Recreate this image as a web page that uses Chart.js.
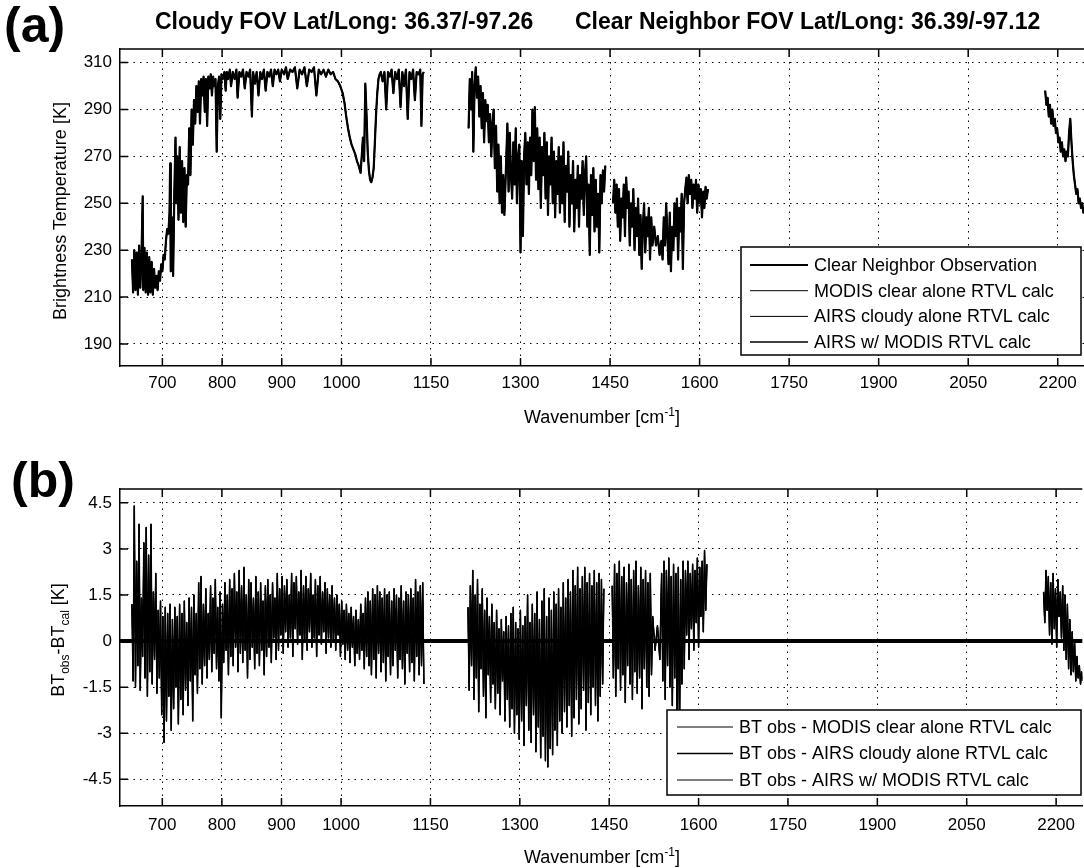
<!DOCTYPE html>
<html>
<head>
<meta charset="utf-8">
<script src="https://cdn.jsdelivr.net/npm/chart.js@4.4.1/dist/chart.umd.min.js"></script>
<style>
  body { margin: 0; background: #fff; }
  #page { position: relative; width: 1084px; height: 868px; overflow: hidden; font-family: 'Liberation Sans', Arial, sans-serif; color: #000; }
  .box { position: absolute; left: 0; width: 1084px; height: 434px; }
  .lbl { position: absolute; white-space: nowrap; line-height: 1; }
  .panel { font-weight: bold; font-size: 50px; }
  .ttl { font-weight: bold; font-size: 23px; }
  .ax { font-size: 18px; transform: translate(-50%, -50%); }
  .ay { font-size: 18px; transform: translate(-50%, -50%) rotate(-90deg); }
  sup, sub { font-size: 12px; }
</style>
</head>
<body>
<div id="page">
  <div class="box" style="top:0"><canvas id="topChart" width="1084" height="434"></canvas></div>
  <div class="box" style="top:434px"><canvas id="diffChart" width="1084" height="434"></canvas></div>

  <div class="lbl panel" style="left:4px; top:0px">(a)</div>
  <div class="lbl panel" style="left:11px; top:455px">(b)</div>
  <div class="lbl ttl" style="left:155px; top:10px">Cloudy FOV Lat/Long: 36.37/-97.26</div>
  <div class="lbl ttl" style="left:575px; top:10px">Clear Neighbor FOV Lat/Long: 36.39/-97.12</div>
  <div class="lbl ay" style="left:60px; top:211px">Brightness Temperature [K]</div>
  <div class="lbl ay" style="left:60px; top:640px">BT<sub>obs</sub>-BT<sub>cal</sub> [K]</div>
  <div class="lbl ax" style="left:602px; top:416px">Wavenumber [cm<sup>-1</sup>]</div>
  <div class="lbl ax" style="left:602px; top:856px">Wavenumber [cm<sup>-1</sup>]</div>
</div>

<script>
// tick labels
var xTicks = [700, 800, 900, 1000, 1150, 1300, 1450, 1600, 1750, 1900, 2050, 2200];
var btTicks = [190, 210, 230, 250, 270, 290, 310];
var dTicks = [4.5, 3, 1.5, 0, -1.5, -3, -4.5];

var btLabels = ["Clear Neighbor Observation", "MODIS clear alone RTVL calc", "AIRS cloudy alone RTVL calc", "AIRS w/ MODIS RTVL calc"];
var dLabels = ["BT obs - MODIS clear alone RTVL calc", "BT obs - AIRS cloudy alone RTVL calc", "BT obs - AIRS w/ MODIS RTVL calc"];

// (a) brightness temperature [K], [wavenumber, BT]
var btSegA = [[649,226],[651,212],[653,230],[655,213],[657,229],[659,211],[661,232],[663,214],[665,227],[667,253],[668,213],[670,231],[672,212],[674,229],[676,211],[678,227],[680,212],[682,225],[684,211],[686,222],[688,214],[690,219],[692,213],[694,221],[696,217],[698,224],
  [700,221],[702,228],[704,226],[706,234],[708,239],[710,237],[712,246],[713,267],[714,221],[716,244],[718,219],[720,254],[722,278],[723,250],[725,270],[727,243],[729,274],[731,246],[733,268],[735,242],[737,265],[739,240],[741,262],[743,258],[745,282],[747,262],[749,290],[751,275],[753,294],[755,284],[757,300],[759,289],
  [761,302],[763,284],[765,303],[767,296],[769,304],[771,289],[773,303],[775,283],[777,304],[779,299],[781,305],[783,296],[785,304],[787,300],[789,303],[791,272],[793,300],[795,304],[797,286],[799,305],
  [801,303],[804,306],[806,298],[808,306],[810,303],[813,307],[815,300],[818,306],[821,303],[824,307],[826,295],[829,306],[832,304],[835,307],[838,299],[841,306],[844,304],[847,307],[850,287],[852,306],[855,301],[858,306],[861,296],[864,306],[867,303],[870,307],[873,298],[876,306],[879,304],[882,307],[885,300],[888,307],[891,305],[894,307],[897,302],
  [900,307],[904,305],[907,308],[910,303],[914,307],[918,306],[922,308],[926,299],[930,307],[934,305],[938,308],[942,300],[946,307],[950,306],[954,308],[958,296],[962,307],[966,305],[970,307],[974,304],[978,307],[982,305],[986,306],[990,303],[994,302],[998,300],
  [1002,297],[1005,293],[1008,287],[1011,282],[1014,278],[1017,275],[1020,273],[1023,271],[1026,268],[1029,266],[1032,263],[1034,270],[1036,278],[1038,268],[1040,301],[1042,288],[1044,272],[1046,264],[1048,260],[1050,259],[1052,261],[1054,265],[1056,276],[1058,288],[1060,297],[1062,303],[1064,305],[1066,306],
  [1069,302],[1072,306],[1075,290],[1078,306],[1081,304],[1084,307],[1087,297],[1090,306],[1093,303],[1096,307],[1099,291],[1102,306],[1105,300],[1108,307],[1111,286],[1114,306],[1117,303],[1120,307],[1123,294],[1126,306],[1129,305],[1132,307],[1134,283],[1136,305],[1138,306]];
var btSegB = [[1213,282],[1215,303],[1217,290],[1219,306],[1221,272],[1223,300],[1225,308],[1227,295],[1229,304],[1231,287],[1233,300],[1235,282],[1237,297],[1239,276],[1241,294],[1243,285],[1245,292],[1247,276],[1249,288],[1251,270],[1253,284],
  [1255,290],[1257,265],[1259,283],[1261,255],[1263,275],[1265,250],[1267,270],[1269,246],[1271,262],[1273,245],[1276,268],[1278,284],[1280,255],[1282,280],[1284,262],[1286,252],[1288,276],[1290,258],[1292,282],[1294,250],[1296,270],[1298,275],
  [1300,229],[1302,268],[1304,236],[1306,270],[1308,280],[1310,258],[1312,276],[1314,254],[1316,278],[1318,262],[1320,290],[1322,268],[1324,291],[1326,260],[1328,282],[1330,256],[1332,278],[1334,248],[1336,274],[1338,262],[1340,280],[1342,252],[1344,276],[1346,245],[1348,270],
  [1350,258],[1352,278],[1354,250],[1356,272],[1358,244],[1360,268],[1362,254],[1364,274],[1366,246],[1368,270],[1370,250],[1372,276],[1374,242],[1376,266],[1378,255],[1380,272],[1382,240],[1384,262],[1386,250],[1388,268],[1390,238],[1392,260],[1394,248],[1396,266],[1398,240],
  [1400,262],[1402,252],[1404,268],[1406,245],[1408,262],[1410,270],[1412,240],[1414,258],[1416,228],[1418,262],[1420,245],[1422,265],[1424,238],[1426,260],[1428,240],[1430,254],[1432,229],[1434,262],[1436,250],[1438,264],[1440,255],[1442,266]];
var btSegC = [[1455,250],[1457,260],[1459,246],[1461,258],[1463,240],[1465,256],[1467,234],[1469,252],[1471,244],[1473,258],[1475,236],[1477,261],[1479,248],[1481,255],[1483,232],[1485,250],[1487,240],[1489,256],[1491,230],[1493,248],[1495,236],[1497,252],[1499,228],
  [1501,245],[1503,222],[1505,240],[1507,250],[1509,229],[1511,244],[1513,236],[1515,248],[1517,226],[1519,244],[1521,232],[1524,240],[1527,232],[1530,236],[1533,228],[1536,234],[1538,226],[1540,244],[1542,232],[1544,250],[1546,236],[1548,224],
  [1550,246],[1552,221],[1554,240],[1556,230],[1558,250],[1560,236],[1562,252],[1564,226],[1566,248],[1568,238],[1570,254],[1572,222],[1574,250],[1576,256],[1578,261],[1580,250],[1582,262],[1584,254],[1586,260],[1588,248],[1590,258],[1592,252],[1594,260],[1596,246],[1598,258],
  [1600,250],[1602,256],[1604,244],[1606,255],[1608,248],[1610,257],[1612,252],[1614,256]];
var btSegD = [[2179,298],[2181,292],[2183,295],[2185,287],[2187,292],[2189,284],[2191,290],[2193,283],[2195,286],[2197,280],[2199,282],[2201,276],[2203,278],[2205,272],[2207,276],[2209,270],[2211,273],[2213,268],[2215,272],[2217,270],[2219,280],[2221,286],[2223,276],[2225,268],[2227,262],[2229,258],[2231,254],[2233,256],[2235,250],[2237,252],[2239,248],[2241,250],[2243,246],[2245,247]];

// (b) BT obs - BT calc [K], [wavenumber, diff]
var dSegA = [[649,1.2],[651,-1.3],[653,4.4],[655,-1.5],[657,2.6],[659,-0.8],[661,3.8],[663,-1.6],[665,1.4],[667,-0.5],[669,3.2],[671,-1.2],[673,3.7],[675,-1.8],[677,2.8],[679,-1.0],[681,3.8],[683,-1.4],[685,1.6],[687,-0.6],[689,2.2],[691,-1.7],[693,1.0],[695,-1.2],[697,1.3],[699,-2.4],
  [701,0.8],[703,-3.3],[705,1.1],[707,-2.6],[709,0.9],[711,-1.8],[713,1.2],[715,-2.9],[717,0.7],[719,-2.2],[721,1.1],[723,-1.5],[725,0.8],[727,-2.7],[729,1.2],[731,-1.9],[733,0.9],[735,-2.4],[737,1.3],[739,-1.6],[741,0.6],[743,-2.1],[745,1.4],[747,-1.3],[749,1.1],
  [751,-2.6],[753,1.5],[755,-1.1],[757,0.9],[759,-1.7],[761,1.9],[763,-0.9],[765,2.1],[767,-1.4],[769,1.2],[771,-0.8],[773,1.7],[775,-1.2],[777,0.9],[779,-0.6],[781,1.8],[783,-1.0],[785,1.4],[787,-0.4],[789,2.0],[791,-0.9],[793,1.1],[795,-1.3],[797,1.6],[799,-2.5],
  [801,1.2],[803,-0.7],[805,1.9],[807,-0.3],[809,1.5],[811,-1.1],[813,2.0],[815,-0.5],[817,1.7],[819,-0.8],[821,2.2],[823,-0.2],[825,1.6],[827,-1.0],[829,2.3],[831,-0.4],[833,1.8],[835,-0.7],[837,2.4],[839,-0.3],[841,1.5],[843,-1.2],[845,2.0],[847,-0.6],[849,1.9],
  [851,-0.2],[853,1.4],[855,-0.9],[857,2.1],[859,-0.4],[861,1.6],[863,-0.8],[865,1.9],[867,-0.3],[869,1.3],[871,-1.1],[873,1.8],[875,-0.5],[877,2.0],[879,-0.2],[881,1.5],[883,-0.7],[885,1.9],[887,0.1],[889,1.4],[891,-0.6],[893,2.2],[895,-0.3],[897,1.7],[899,0.2],
  [901,2.1],[903,-0.4],[905,1.8],[907,0.3],[909,2.0],[911,-0.2],[913,1.5],[915,0.1],[917,2.2],[919,-0.5],[921,1.9],[923,0.4],[925,2.1],[927,-0.1],[929,1.6],[931,0.2],[933,2.3],[935,-0.6],[937,1.8],[939,0.0],[941,2.1],[943,-0.3],[945,1.7],[947,0.3],[949,2.2],
  [951,-0.2],[953,1.5],[955,0.1],[957,2.0],[959,-0.5],[961,1.8],[963,0.2],[965,2.1],[967,-0.1],[969,1.6],[971,0.3],[973,1.9],[975,-0.4],[977,1.7],[979,0.1],[981,1.5],[983,-0.2],[985,1.8],[987,0.0],[989,1.4],[991,-0.3],[993,1.5],[995,0.2],[997,1.2],[999,-0.5],
  [1001,1.3],[1003,-0.1],[1005,1.0],[1007,-0.6],[1009,1.2],[1011,-0.3],[1013,0.9],[1015,-0.7],[1017,1.1],[1019,-0.2],[1021,0.8],[1023,-0.8],[1025,1.0],[1027,-0.4],[1029,0.7],[1031,-0.6],[1033,1.2],[1035,-0.3],[1037,0.9],[1039,-0.9],[1041,1.4],[1043,-0.5],[1045,1.6],[1047,-0.8],[1049,1.3],
  [1051,-1.1],[1053,1.7],[1055,-0.6],[1057,1.5],[1059,-1.2],[1061,1.8],[1063,-0.4],[1065,1.6],[1067,-1.0],[1069,1.4],[1071,-0.7],[1073,1.7],[1075,-1.3],[1077,1.5],[1079,-0.5],[1081,1.6],[1083,-1.1],[1085,1.3],[1087,-0.8],[1089,1.7],[1091,-0.3],[1093,1.5],[1095,-1.2],[1097,1.4],[1099,-0.6],
  [1101,1.8],[1103,-0.9],[1105,1.3],[1107,-1.4],[1109,1.6],[1111,-0.4],[1113,1.5],[1115,-1.0],[1117,1.7],[1119,-0.7],[1121,1.4],[1123,-1.3],[1125,2.0],[1127,-0.5],[1129,1.6],[1131,-1.1],[1133,1.8],[1135,-0.8],[1137,1.9],[1139,-1.4]];
var dSegB = [[1213,1.1],[1215,-1.6],[1217,1.8],[1219,-0.8],[1221,2.3],[1223,-1.9],[1225,1.5],[1227,-1.2],[1229,2.0],[1231,-2.3],[1233,1.2],[1235,-0.9],[1237,1.7],[1239,-1.8],[1241,1.0],[1243,-2.5],[1245,1.4],[1247,-1.1],[1249,0.8],
  [1251,-2.0],[1253,1.2],[1255,-1.4],[1257,0.6],[1259,-2.2],[1261,1.0],[1263,-1.7],[1265,0.4],[1267,-2.4],[1269,0.7],[1271,-1.3],[1273,0.3],[1275,-2.6],[1277,0.8],[1279,-1.9],[1281,0.5],[1283,-2.8],[1285,0.9],[1287,-2.2],[1289,1.1],[1291,-3.0],[1293,0.6],[1295,-2.4],[1297,0.4],[1299,-3.2],
  [1301,1.0],[1303,-2.6],[1305,0.5],[1307,-3.4],[1309,0.8],[1311,-2.1],[1313,1.5],[1315,-2.9],[1317,0.6],[1319,-3.3],[1321,1.2],[1323,-2.4],[1325,0.9],[1327,-3.6],[1329,1.6],[1331,-2.8],[1333,0.7],[1335,-3.8],[1337,1.3],[1339,-3.1],[1341,1.7],[1343,-3.9],[1345,0.8],[1347,-4.1],[1349,1.4],
  [1351,-3.5],[1353,1.0],[1355,-3.7],[1357,1.6],[1359,-2.9],[1361,1.2],[1363,-3.4],[1365,1.7],[1367,-2.6],[1369,1.1],[1371,-3.0],[1373,1.9],[1375,-2.3],[1377,1.4],[1379,-2.8],[1381,2.0],[1383,-2.1],[1385,1.6],[1387,-3.1],[1389,2.3],[1391,-2.5],[1393,1.8],[1395,-1.9],[1397,2.4],[1399,-2.7],
  [1401,1.7],[1403,-2.2],[1405,2.1],[1407,-1.6],[1409,2.4],[1411,-2.9],[1413,1.9],[1415,-2.0],[1417,2.2],[1419,-2.4],[1421,1.8],[1423,-1.5],[1425,2.3],[1427,-2.1],[1429,1.9],[1431,-2.6],[1433,2.2],[1435,-1.8],[1437,2.0],[1439,-1.4],[1441,1.7]];
var dSegC = [[1455,1.8],[1457,-1.2],[1459,2.5],[1461,-1.8],[1463,2.2],[1465,-0.9],[1467,2.6],[1469,-1.6],[1471,2.1],[1473,-1.1],[1475,2.4],[1477,-2.0],[1479,1.9],[1481,-0.8],[1483,2.5],[1485,-1.4],[1487,2.0],[1489,-1.9],[1491,2.3],[1493,-1.0],[1495,2.6],[1497,-1.7],[1499,1.8],
  [1501,-1.2],[1503,2.4],[1505,-2.2],[1507,2.0],[1509,-0.9],[1511,2.3],[1513,-1.5],[1515,1.9],[1517,-1.8],[1519,2.2],[1521,-1.1],[1523,0.8],[1527,-0.3],[1531,0.5],[1535,-0.6],[1538,2.2],[1540,-1.3],[1542,2.6],[1544,-1.9],[1546,2.3],[1548,-0.8],
  [1550,2.7],[1552,-1.5],[1554,2.1],[1556,-2.1],[1558,2.5],[1560,-1.2],[1562,2.2],[1564,-2.6],[1566,2.4],[1568,-3.1],[1570,2.0],[1572,-1.4],[1574,2.6],[1576,-0.9],[1578,2.3],[1580,0.2],[1582,2.6],[1584,-0.6],[1586,2.2],[1588,0.4],[1590,2.5],[1592,-0.3],[1594,2.3],[1596,0.6],[1598,2.7],
  [1600,-0.2],[1602,2.4],[1604,0.8],[1606,2.6],[1608,0.3],[1610,2.95],[1612,1.0],[1614,2.5]];
var dSegD = [[2179,1.6],[2181,0.6],[2183,2.3],[2185,1.0],[2187,2.1],[2189,0.2],[2191,1.9],[2193,-0.1],[2195,2.2],[2197,0.4],[2199,1.7],[2201,-0.2],[2203,2.0],[2205,0.8],[2207,1.6],[2209,0.1],[2211,1.8],[2213,-0.3],[2215,1.5],[2217,-0.6],[2219,1.2],[2221,-0.9],[2223,0.7],[2225,-1.1],
  [2227,0.3],[2229,-1.0],[2231,0.0],[2233,-1.3],[2235,-0.5],[2237,-1.2],[2239,-0.8],[2241,-1.4],[2243,-1.0],[2245,-1.3]];

// join the spectral windows, with a null between them so the line breaks
function toPoints(segs) {
  var pts = [];
  segs.forEach(function(s, i) {
    if (i > 0) pts.push({x: s[0][0] - 1, y: null});
    s.forEach(function(p) { pts.push({x: p[0], y: p[1]}); });
  });
  return pts;
}

var btObs = toPoints([btSegA, btSegB, btSegC, btSegD]);
var dBT = toPoints([dSegA, dSegB, dSegC, dSegD]);

Chart.defaults.font.family = "'Liberation Sans', Arial, sans-serif";
Chart.defaults.font.size = 17;
Chart.defaults.color = '#000';

// MATLAB style: inward ticks and a top edge
var axesBox = {
  id: 'axesBox',
  afterDraw: function(chart) {
    var ctx = chart.ctx, a = chart.chartArea;
    var xs = chart.scales.x, ys = chart.scales.y;
    ctx.save();
    ctx.strokeStyle = '#000';
    ctx.lineWidth = 1.5;
    ctx.beginPath();
    ctx.moveTo(a.left, a.top);
    ctx.lineTo(a.right, a.top);
    xs.ticks.forEach(function(t) {
      var px = xs.getPixelForValue(t.value);
      ctx.moveTo(px, a.bottom); ctx.lineTo(px, a.bottom - 8);
      ctx.moveTo(px, a.top); ctx.lineTo(px, a.top + 8);
    });
    ys.ticks.forEach(function(t) {
      var py = ys.getPixelForValue(t.value);
      ctx.moveTo(a.left, py); ctx.lineTo(a.left + 8, py);
    });
    ctx.stroke();
    ctx.restore();
  }
};

var boxLegend = {
  id: 'boxLegend',
  afterDraw: function(chart, args, o) {
    var ctx = chart.ctx;
    var items = chart.data.datasets.filter(function(d) { return !d.noLegend; });
    ctx.save();
    ctx.fillStyle = '#fff';
    ctx.fillRect(o.x, o.y, o.w, o.h);
    ctx.strokeStyle = '#000';
    ctx.lineWidth = 1.5;
    ctx.strokeRect(o.x, o.y, o.w, o.h);
    ctx.font = o.font;
    ctx.textBaseline = 'middle';
    ctx.fillStyle = '#000';
    items.forEach(function(d, i) {
      var yy = o.y + o.first + i * o.row;
      ctx.beginPath();
      ctx.lineWidth = d.borderWidth;
      ctx.moveTo(o.x + o.s1, yy);
      ctx.lineTo(o.x + o.s2, yy);
      ctx.stroke();
      ctx.fillText(d.label, o.x + o.tx, yy + 1);
    });
    ctx.restore();
  }
};

function xScale(pad, h) {
  return {
    type: 'linear', min: 629, max: 2244,
    afterBuildTicks: function(s) { s.ticks = xTicks.map(function(v) { return {value: v}; }); },
    afterFit: function(s) { s.height = h; },
    ticks: { autoSkip: false, maxRotation: 0, padding: pad, callback: function(v) { return String(v); } },
    grid: { color: '#000', lineWidth: 1, drawTicks: false },
    border: { display: true, color: '#000', width: 1.5, dash: [1.5, 5] }
  };
}

function yScale(min, max, ticks) {
  return {
    min: min, max: max,
    afterBuildTicks: function(s) { s.ticks = ticks.map(function(v) { return {value: v}; }); },
    afterFit: function(s) { s.width = 120; },
    ticks: { padding: 8, callback: function(v) { return String(v); } },
    grid: { color: '#000', lineWidth: 1, drawTicks: false },
    border: { display: true, color: '#000', width: 1.5, dash: [1.5, 5] }
  };
}

function line(label, data, w) {
  return { label: label, data: data, borderColor: '#000', borderWidth: w, pointRadius: 0, tension: 0,
           spanGaps: false, borderJoinStyle: 'round', fill: false };
}

new Chart(document.getElementById('topChart'), {
  type: 'line',
  data: {
    datasets: [
      line(btLabels[0], btObs, 2.2),
      // the three calculations sit on top of the observation at this scale
      line(btLabels[1], btObs, 1),
      line(btLabels[2], btObs, 1),
      line(btLabels[3], btObs, 1.5)
    ]
  },
  options: {
    responsive: false, animation: false, devicePixelRatio: 1,
    layout: { padding: { top: 49, left: 0, right: 0, bottom: 0 } },
    scales: { x: xScale(7, 68), y: yScale(180.6, 315.8, btTicks) },
    plugins: {
      legend: { display: false }, tooltip: { enabled: false },
      boxLegend: { x: 741, y: 247, w: 340, h: 108, first: 18, row: 25.7, s1: 9, s2: 67, tx: 73,
                   font: "18px 'Liberation Sans', Arial, sans-serif" }
    }
  },
  plugins: [axesBox, boxLegend]
});

var zeroLine = line('zero', [{x: 600, y: 0}, {x: 2300, y: 0}], 4);
zeroLine.noLegend = true;

new Chart(document.getElementById('diffChart'), {
  type: 'line',
  data: {
    datasets: [
      zeroLine,
      line(dLabels[0], dBT, 1.2),
      line(dLabels[1], dBT, 1.5),
      line(dLabels[2], dBT, 1)
    ]
  },
  options: {
    responsive: false, animation: false, devicePixelRatio: 1,
    layout: { padding: { top: 55, left: 0, right: 0, bottom: 0 } },
    scales: { x: xScale(9, 62), y: yScale(-5.37, 4.95, dTicks) },
    plugins: {
      legend: { display: false }, tooltip: { enabled: false },
      boxLegend: { x: 667, y: 276, w: 414, h: 85, first: 17, row: 26.5, s1: 10, s2: 66, tx: 72,
                   font: "18px 'Liberation Sans', Arial, sans-serif" }
    }
  },
  plugins: [axesBox, boxLegend]
});
</script>
</body>
</html>
